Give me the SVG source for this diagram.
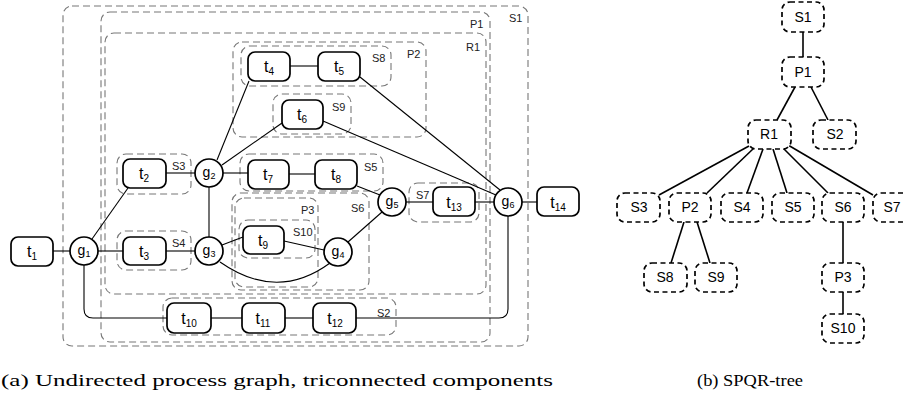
<svg xmlns="http://www.w3.org/2000/svg" width="906" height="420" viewBox="0 0 906 420">
<style>
.comp{fill:none;stroke:#777;stroke-width:1.1;stroke-dasharray:7,4}
.task{fill:#fff;stroke:#000;stroke-width:1.7}
.gw{fill:#fff;stroke:#000;stroke-width:1.7}
.e{fill:none;stroke:#000;stroke-width:1.1}
.tl{font-family:"Liberation Sans",Arial,sans-serif;font-size:16px;text-anchor:middle}
.gl{font-family:"Liberation Sans",Arial,sans-serif;font-size:14px;text-anchor:middle}
.cl{font-family:"Liberation Sans",Arial,sans-serif;font-size:11px;fill:#222}
.tn{fill:#fff;stroke:#000;stroke-width:1.7;stroke-dasharray:5,3.5}
.tnl{font-family:"Liberation Sans",Arial,sans-serif;font-size:14px;text-anchor:middle}
.te{fill:none;stroke:#000;stroke-width:1.6}
.cap{font-family:"Liberation Serif","Times New Roman",serif;font-size:16px}
</style>

<g id="components">
<rect class="comp" x="63" y="6" width="465" height="340" rx="9"/>
<text class="cl" x="509" y="22">S1</text>
<rect class="comp" x="101" y="12" width="389" height="330" rx="9"/>
<text class="cl" x="470" y="28">P1</text>
<rect class="comp" x="105" y="33" width="381" height="261" rx="9"/>
<text class="cl" x="466" y="51">R1</text>
<rect class="comp" x="233" y="42" width="193" height="95" rx="9"/>
<text class="cl" x="407" y="58">P2</text>
<rect class="comp" x="241" y="46" width="150" height="40" rx="9"/>
<text class="cl" x="372" y="62">S8</text>
<rect class="comp" x="273" y="94" width="78" height="40" rx="9"/>
<text class="cl" x="332" y="111">S9</text>
<rect class="comp" x="117" y="154" width="74" height="40" rx="9"/>
<text class="cl" x="172" y="170">S3</text>
<rect class="comp" x="240" y="154" width="143" height="37" rx="9"/>
<text class="cl" x="364" y="171">S5</text>
<rect class="comp" x="117" y="231" width="74" height="39" rx="9"/>
<text class="cl" x="172" y="247">S4</text>
<rect class="comp" x="232" y="193" width="137" height="97" rx="9"/>
<text class="cl" x="351" y="212">S6</text>
<rect class="comp" x="235" y="198" width="83" height="89" rx="9"/>
<text class="cl" x="301" y="214">P3</text>
<rect class="comp" x="239" y="220" width="76" height="38" rx="9"/>
<text class="cl" x="293" y="236">S10</text>
<rect class="comp" x="409" y="183" width="70" height="39" rx="9"/>
<text class="cl" x="416" y="199">S7</text>
<rect class="comp" x="163" y="298" width="233" height="37" rx="9"/>
<text class="cl" x="377" y="317">S2</text>
</g>

<g id="connectors">
<line class="e" x1="53" y1="251" x2="70" y2="251"/>
<line class="e" x1="98" y1="251" x2="123" y2="251"/>
<line class="e" x1="166" y1="251" x2="195" y2="251"/>
<line class="e" x1="92" y1="239" x2="128" y2="188"/>
<line class="e" x1="166" y1="173" x2="195" y2="173"/>
<line class="e" x1="217" y1="160" x2="249" y2="81"/>
<line class="e" x1="222" y1="165" x2="282" y2="123"/>
<line class="e" x1="223" y1="173" x2="248" y2="173"/>
<line class="e" x1="289" y1="174" x2="315" y2="174"/>
<line class="e" x1="357" y1="186" x2="380" y2="195"/>
<line class="e" x1="209" y1="187" x2="209" y2="237"/>
<line class="e" x1="222" y1="245" x2="243" y2="237"/>
<line class="e" x1="284" y1="241" x2="324" y2="250"/>
<path class="e" d="M220,262 Q277,302 330,263"/>
<line class="e" x1="348" y1="242" x2="382" y2="212"/>
<line class="e" x1="406" y1="202" x2="433" y2="202"/>
<line class="e" x1="475" y1="202" x2="494" y2="202"/>
<line class="e" x1="522" y1="202" x2="537" y2="202"/>
<line class="e" x1="290" y1="66" x2="318" y2="66"/>
<line class="e" x1="360" y1="77" x2="500" y2="190"/>
<line class="e" x1="323" y1="121" x2="496" y2="195"/>
<path class="e" d="M508,216 V309 Q508,318 499,318 H356"/>
<path class="e" d="M84,265 V309 Q84,318 93,318 H167"/>
<line class="e" x1="211" y1="318" x2="242" y2="318"/>
<line class="e" x1="285" y1="318" x2="313" y2="318"/>
</g>

<g id="t1"><rect class="task" x="11" y="237" width="42" height="29" rx="7"/><text class="tl" x="32" y="257">t<tspan font-size="10" dy="3">1</tspan></text></g>
<g id="t2"><rect class="task" x="123" y="159" width="43" height="29" rx="7"/><text class="tl" x="144" y="179">t<tspan font-size="10" dy="3">2</tspan></text></g>
<g id="t3"><rect class="task" x="123" y="237" width="43" height="28" rx="7"/><text class="tl" x="144" y="257">t<tspan font-size="10" dy="3">3</tspan></text></g>
<g id="t4"><rect class="task" x="248" y="52" width="42" height="29" rx="7"/><text class="tl" x="269" y="72">t<tspan font-size="10" dy="3">4</tspan></text></g>
<g id="t5"><rect class="task" x="318" y="52" width="42" height="29" rx="7"/><text class="tl" x="339" y="72">t<tspan font-size="10" dy="3">5</tspan></text></g>
<g id="t6"><rect class="task" x="282" y="100" width="41" height="29" rx="7"/><text class="tl" x="302" y="120">t<tspan font-size="10" dy="3">6</tspan></text></g>
<g id="t7"><rect class="task" x="248" y="160" width="41" height="29" rx="7"/><text class="tl" x="268" y="180">t<tspan font-size="10" dy="3">7</tspan></text></g>
<g id="t8"><rect class="task" x="315" y="160" width="42" height="29" rx="7"/><text class="tl" x="336" y="180">t<tspan font-size="10" dy="3">8</tspan></text></g>
<g id="t9"><rect class="task" x="243" y="226" width="41" height="28" rx="7"/><text class="tl" x="263" y="246">t<tspan font-size="10" dy="3">9</tspan></text></g>
<g id="t10"><rect class="task" x="167" y="303" width="44" height="30" rx="7"/><text class="tl" x="189" y="324">t<tspan font-size="10" dy="3">10</tspan></text></g>
<g id="t11"><rect class="task" x="242" y="303" width="43" height="30" rx="7"/><text class="tl" x="263" y="324">t<tspan font-size="10" dy="3">11</tspan></text></g>
<g id="t12"><rect class="task" x="313" y="303" width="43" height="30" rx="7"/><text class="tl" x="335" y="324">t<tspan font-size="10" dy="3">12</tspan></text></g>
<g id="t13"><rect class="task" x="433" y="187" width="42" height="29" rx="7"/><text class="tl" x="454" y="208">t<tspan font-size="10" dy="3">13</tspan></text></g>
<g id="t14"><rect class="task" x="537" y="187" width="42" height="29" rx="7"/><text class="tl" x="558" y="208">t<tspan font-size="10" dy="3">14</tspan></text></g>

<g id="g1"><circle class="gw" cx="84" cy="251" r="14"/><text class="gl" x="84" y="255">g<tspan font-size="9" dy="2">1</tspan></text></g>
<g id="g2"><circle class="gw" cx="209" cy="173" r="14"/><text class="gl" x="209" y="177">g<tspan font-size="9" dy="2">2</tspan></text></g>
<g id="g3"><circle class="gw" cx="209" cy="251" r="14"/><text class="gl" x="209" y="255">g<tspan font-size="9" dy="2">3</tspan></text></g>
<g id="g4"><circle class="gw" cx="338" cy="252" r="14"/><text class="gl" x="338" y="256">g<tspan font-size="9" dy="2">4</tspan></text></g>
<g id="g5"><circle class="gw" cx="392" cy="202" r="14"/><text class="gl" x="392" y="206">g<tspan font-size="9" dy="2">5</tspan></text></g>
<g id="g6"><circle class="gw" cx="508" cy="202" r="14"/><text class="gl" x="508" y="206">g<tspan font-size="9" dy="2">6</tspan></text></g>

<g id="tree-edges">
<line class="te" x1="803" y1="32" x2="803" y2="57"/>
<line class="te" x1="795" y1="87" x2="777" y2="120"/>
<line class="te" x1="811" y1="87" x2="828" y2="120"/>
<line class="te" x1="749" y1="146" x2="659" y2="195"/>
<line class="te" x1="754" y1="148" x2="707" y2="193"/>
<line class="te" x1="763" y1="149" x2="747" y2="193"/>
<line class="te" x1="773" y1="149" x2="787" y2="193"/>
<line class="te" x1="783" y1="148" x2="828" y2="193"/>
<line class="te" x1="788" y1="145" x2="873" y2="195"/>
<line class="te" x1="684" y1="222" x2="671" y2="263"/>
<line class="te" x1="697" y1="222" x2="710" y2="263"/>
<line class="te" x1="843" y1="222" x2="843" y2="263"/>
<line class="te" x1="843" y1="292" x2="843" y2="314"/>
</g>

<g id="tS1"><rect class="tn" x="782" y="2" width="42" height="30" rx="8"/><text class="tnl" x="803" y="22">S1</text></g>
<g id="tP1"><rect class="tn" x="782" y="57" width="42" height="30" rx="8"/><text class="tnl" x="803" y="77">P1</text></g>
<g id="tR1"><rect class="tn" x="748" y="120" width="43" height="29" rx="8"/><text class="tnl" x="769" y="139">R1</text></g>
<g id="tS2"><rect class="tn" x="813" y="120" width="43" height="29" rx="8"/><text class="tnl" x="835" y="139">S2</text></g>
<g id="tS3"><rect class="tn" x="617" y="193" width="43" height="29" rx="8"/><text class="tnl" x="639" y="212">S3</text></g>
<g id="tP2"><rect class="tn" x="669" y="193" width="42" height="29" rx="8"/><text class="tnl" x="690" y="212">P2</text></g>
<g id="tS4"><rect class="tn" x="721" y="193" width="42" height="29" rx="8"/><text class="tnl" x="742" y="212">S4</text></g>
<g id="tS5"><rect class="tn" x="772" y="193" width="42" height="29" rx="8"/><text class="tnl" x="793" y="212">S5</text></g>
<g id="tS6"><rect class="tn" x="822" y="193" width="42" height="29" rx="8"/><text class="tnl" x="843" y="212">S6</text></g>
<g id="tS7"><rect class="tn" x="873" y="193" width="42" height="29" rx="8"/><text class="tnl" x="892" y="212">S7</text></g>
<g id="tS8"><rect class="tn" x="644" y="263" width="43" height="29" rx="8"/><text class="tnl" x="665" y="282">S8</text></g>
<g id="tS9"><rect class="tn" x="695" y="263" width="42" height="29" rx="8"/><text class="tnl" x="716" y="282">S9</text></g>
<g id="tP3"><rect class="tn" x="822" y="263" width="42" height="29" rx="8"/><text class="tnl" x="843" y="282">P3</text></g>
<g id="tS10"><rect class="tn" x="822" y="314" width="42" height="29" rx="8"/><text class="tnl" x="843" y="333">S10</text></g>

<g id="captions">
<text class="cap" x="1" y="386" textLength="552" lengthAdjust="spacingAndGlyphs">(a) Undirected process graph, triconnected components</text>
<text class="cap" x="697" y="386" textLength="106" lengthAdjust="spacingAndGlyphs">(b) SPQR-tree</text>
</g>
</svg>
